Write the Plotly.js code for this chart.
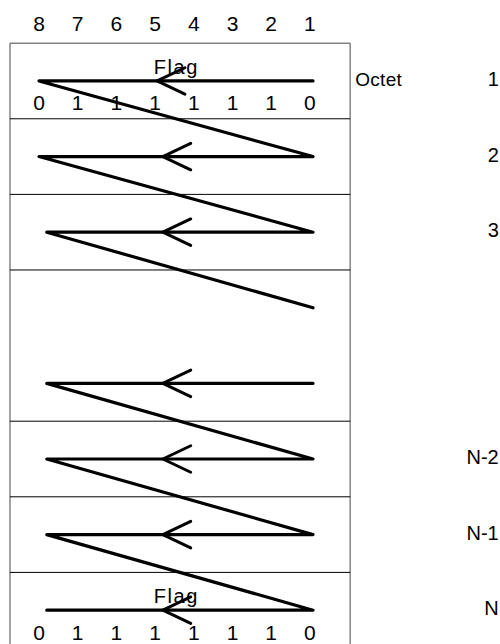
<!DOCTYPE html>
<html><head><meta charset="utf-8">
<script src="https://cdn.plot.ly/plotly-3.0.1.min.js"></script>
<style>
html,body{margin:0;padding:0;background:#fff;}
.scatterlayer path.js-line{stroke-linejoin:round;stroke-linecap:round;}
</style></head>
<body><div id="chart" style="width:500px;height:644px;"></div>
<script>
// Bit columns (8 = MSB on the left) and flag pattern
const bitPositions = [8, 7, 6, 5, 4, 3, 2, 1];
const flagBits = [0, 1, 1, 1, 1, 1, 1, 0];
// Octet rows (1..8 in diagram order) and their labels
const rows = [1, 2, 3, 4, 5, 6, 7, 8];
const octetLabels = ['1', '2', '3', '', '', 'N-2', 'N-1', 'N'];
// Rows that carry a right-to-left arrow, and rows whose arrow continues diagonally to the next row
const arrowRows = [1, 2, 3, 5, 6, 7, 8];
const diagonalFromRows = [1, 2, 3, 5, 6, 7];
const flagRows = [1, 8];
// Separator lines are drawn below these rows
const separatorAfterRows = [1, 2, 3, 5, 6, 7];

const col = b => 8 - b;           // x unit for a bit column
const rightEnd = 7.08;
const leftEnd = r => (r <= 2 ? 0 : 0.2);
const tipX = r => (r === 1 ? 3.05 : 3.2);

// zigzag path
const zx = [], zy = [];
arrowRows.forEach((r, i) => {
  const prev = arrowRows[i - 1];
  const continues = i > 0 && diagonalFromRows.includes(prev) && prev + 1 === r;
  if (!continues) {
    if (i > 0) { zx.push(null); zy.push(null); }
    zx.push(rightEnd); zy.push(r);
  }
  zx.push(leftEnd(r)); zy.push(r);
  if (diagonalFromRows.includes(r)) { zx.push(rightEnd); zy.push(r + 1); }
});

// chevrons
const cx = [], cy = [];
arrowRows.forEach(r => {
  const t = tipX(r);
  cx.push(t + 0.72, t, t + 0.72, null);
  cy.push(r - 0.175, r, r + 0.175, null);
});

const regular = (size) => ({family: 'Liberation Sans, Arial, sans-serif', size: size, color: '#000'});
const traces = [
  {x: zx, y: zy, mode: 'lines', line: {color: '#000', width: 3.2}, hoverinfo: 'skip'},
  {x: cx, y: cy, mode: 'lines', line: {color: '#000', width: 3}, hoverinfo: 'skip'},
  {x: bitPositions.map(col), y: bitPositions.map(() => 0.27), mode: 'text',
   text: bitPositions.map(String), textfont: regular(21), textposition: 'middle center', hoverinfo: 'skip'},
];
flagRows.forEach(r => {
  traces.push({x: bitPositions.map(col), y: bitPositions.map(() => r + 0.32), mode: 'text',
    text: flagBits.map(String), textfont: regular(21), textposition: 'middle center', hoverinfo: 'skip'});
  traces.push({x: [3.55], y: [r - 0.16], mode: 'text', text: ['Flag'], textfont: regular(20),
    textposition: 'middle center', hoverinfo: 'skip'});
});
traces.push({x: rows.map(() => 11.88), y: rows, mode: 'text', text: octetLabels,
  textfont: regular(20), textposition: 'middle left', hoverinfo: 'skip'});
traces.push({x: [8.17], y: [1], mode: 'text', text: ['Octet'], textfont: regular(19),
  textposition: 'middle right', hoverinfo: 'skip'});

const boxL = -0.75, boxR = 8.04;
const shapes = [
  {type: 'line', x0: boxL, x1: boxL, y0: 0.5, y1: 8.6, line: {color: '#666', width: 1.2}},
  {type: 'line', x0: boxR, x1: boxR, y0: 0.5, y1: 8.6, line: {color: '#666', width: 1.2}},
  {type: 'line', x0: boxL, x1: boxR, y0: 0.5, y1: 0.5, line: {color: '#444', width: 1}},
];
separatorAfterRows.forEach(r => shapes.push(
  {type: 'line', x0: boxL, x1: boxR, y0: r + 0.5, y1: r + 0.5, line: {color: '#000', width: 1}}));

const layout = {
  width: 500, height: 644, margin: {l: 0, r: 0, t: 0, b: 0},
  paper_bgcolor: '#fff', plot_bgcolor: '#fff', showlegend: false,
  xaxis: {range: [-1.008, 11.912], visible: false, fixedrange: true},
  yaxis: {range: [8.447, -0.071], visible: false, fixedrange: true},
  shapes: shapes
};
Plotly.newPlot('chart', traces, layout, {displayModeBar: false, staticPlot: true}).then(gd => {
  gd.querySelectorAll('.scatterlayer .textpoint text').forEach(t => {
    if (t.textContent === 'Flag') t.style.letterSpacing = '1.6px';
    if (t.textContent === 'Octet') t.style.letterSpacing = '0.3px';
  });
});
</script></body></html>
